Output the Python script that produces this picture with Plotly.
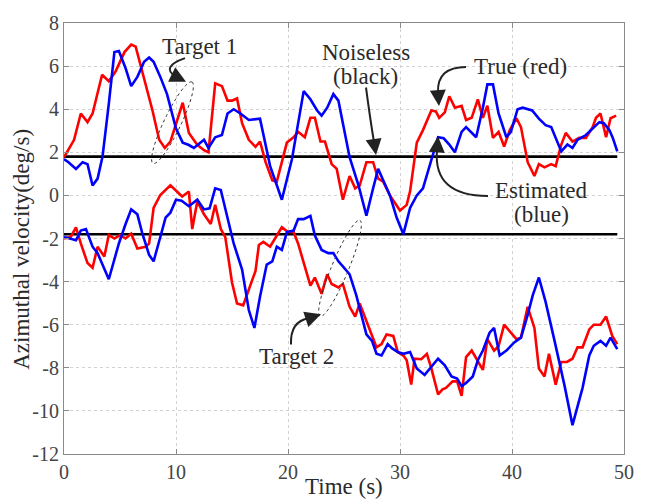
import numpy as np
import plotly.graph_objects as go

# ---------------- data ----------------
t1_true_t = [0,0.9,1.5,2.1,2.55,3.4,4.0,4.6,5.4,6.0,6.4,6.85,7.3,7.9,8.5,9.0,9.5,10.0,10.6,11.15,11.9,12.5,12.9,13.5,14.1,14.6,15.0,15.45,15.9,16.5,17.1,17.5,18.0,18.6,19.0,19.9,20.5,20.9,21.5,22.0,22.4,22.9,23.3,23.9,24.35,24.9,25.5,26.0,26.4,27.0,27.6,28.05,28.5,29.1,30.0,30.6,30.9,31.5,32.05,32.8,33.2,33.5,34.0,34.4,34.9,35.5,35.9,36.4,36.95,37.4,37.8,38.3,38.8,39.3,39.8,40.4,40.8,41.4,42.0,42.4,42.9,43.5,43.9,44.4,44.8,45.4,46.0,46.6,47.2,47.5,47.9,48.4,48.8,49.3]
t1_true_v = [1.77,2.58,3.8,3.4,3.8,5.6,5.3,5.75,6.65,7.0,6.9,6.05,5.07,3.94,2.58,2.2,2.5,3.35,4.3,2.9,2.35,2.1,2.0,5.2,5.07,4.4,4.4,4.5,3.35,2.58,2.25,2.5,1.54,0.7,0.64,2.45,2.7,2.95,2.7,3.6,3.6,2.5,2.5,1.45,1.23,-0.2,0.9,0.33,0.46,1.54,1.54,0.78,0.64,0.0,-0.7,-0.44,0.19,2.45,3.03,3.94,3.9,3.6,3.85,4.6,4.07,4.16,3.5,3.6,4.46,3.6,4.16,2.67,2.95,2.27,3.03,3.58,3.17,1.54,0.9,1.45,1.3,1.45,1.36,2.36,2.9,2.5,2.67,2.67,3.17,3.6,3.8,2.7,3.58,3.7]

t1_est_t = [0,0.4,1.07,1.66,2.1,2.55,3.0,3.44,4.0,4.5,4.9,5.5,6.0,6.55,7.15,7.6,8.0,8.6,9.2,10.0,10.6,11.1,11.6,12.5,12.9,13.5,14.1,14.6,15.15,15.75,16.5,17.5,18.4,19.45,20.35,21.4,22.0,22.6,23.0,23.5,24.05,24.5,24.9,25.5,26.3,27.0,27.6,28.05,28.5,29.1,29.7,30.3,30.9,31.5,32.05,32.8,33.4,33.9,34.4,34.9,35.5,35.9,36.8,37.4,37.8,38.3,38.8,39.5,39.9,40.5,40.95,41.8,42.4,43.0,43.5,44.4,44.95,45.4,45.85,46.6,47.2,47.8,48.2,48.7,49.0,49.4]
t1_est_v = [1.68,1.54,1.23,1.54,1.45,0.46,0.78,1.8,4.25,6.65,6.7,5.9,5.07,5.5,6.2,6.4,6.2,5.5,4.7,3.1,2.45,2.35,2.2,2.58,2.2,2.7,2.8,3.8,4.0,3.8,3.5,3.56,1.37,-0.2,1.68,4.84,4.46,3.94,3.7,4.07,4.7,4.4,3.35,1.77,0.46,-0.94,0.33,1.23,0.7,0.0,-1.03,-1.8,-0.58,0.0,0.33,1.68,2.7,2.65,2.36,2.0,2.95,3.17,2.7,4.07,5.15,5.15,3.8,2.7,2.95,4.0,4.07,3.94,3.56,3.26,3.17,2.04,2.36,2.2,2.58,2.8,3.1,3.4,3.35,3.03,2.67,2.04]

t2_true_t = [0,0.6,1.07,1.5,2.1,2.55,3.0,3.6,4.0,4.5,5.0,5.5,6.0,6.55,7.3,7.6,8.0,8.6,9.5,10.0,10.55,11.15,11.45,11.9,12.5,13.1,13.5,14.0,14.4,15.0,15.45,16.0,16.5,17.1,17.4,17.8,18.4,19.0,19.45,20.0,20.5,20.9,21.4,22.0,22.4,23.0,23.5,23.9,24.5,24.9,25.5,26.0,26.4,27.0,27.5,27.9,28.35,28.8,29.4,29.8,30.3,30.6,31.0,31.3,31.9,32.4,32.8,33.4,33.8,34.1,34.7,35.1,35.5,35.9,36.4,36.95,37.4,37.8,38.4,38.8,39.3,39.9,40.4,40.8,41.4,42.0,42.4,42.9,43.3,43.9,44.4,44.9,45.4,45.85,46.3,46.9,47.3,47.9,48.4,48.95,49.4]
t2_true_v = [-2.0,-1.93,-1.48,-2.23,-3.14,-3.36,-2.38,-2.84,-1.84,-2.0,-1.84,-2.0,-1.78,-2.46,-2.38,-2.23,-0.58,0.02,0.47,0.2,-0.05,0.18,-1.56,-0.28,-0.88,-1.33,-0.43,-1.56,-1.93,-4.04,-5.02,-5.1,-4.4,-3.5,-2.3,-2.16,-2.38,-1.86,-1.48,-1.7,-1.7,-2.23,-3.14,-4.19,-3.81,-4.57,-3.66,-4.11,-4.27,-4.11,-5.17,-5.62,-5.02,-5.85,-6.45,-7.05,-6.9,-6.45,-6.52,-7.27,-7.43,-7.65,-8.78,-7.58,-7.6,-7.35,-8.03,-9.23,-9.0,-8.93,-8.63,-8.63,-9.3,-7.5,-7.2,-7.73,-8.1,-6.67,-7.2,-7.0,-6.0,-6.37,-6.67,-6.6,-5.17,-6.15,-8.03,-8.4,-7.35,-8.78,-7.73,-7.73,-7.58,-7.05,-7.05,-6.22,-6.0,-6.0,-5.62,-6.52,-6.9]

t2_est_t = [0,0.6,1.07,1.5,1.96,2.55,3.0,4.0,4.9,5.5,6.0,6.55,7.0,7.6,8.0,8.6,9.07,9.5,10.0,10.5,11.15,11.9,12.5,13.0,13.5,14.0,14.6,15.15,15.9,16.5,17.0,17.5,18.1,18.6,19.0,19.45,19.9,20.5,20.9,21.4,22.0,22.4,23.0,23.6,24.05,24.5,24.9,25.5,26.1,26.5,27.0,27.5,27.9,28.35,28.9,29.3,29.8,30.3,30.9,31.5,32.2,32.8,33.4,34.0,34.6,35.1,35.5,35.9,36.5,36.95,37.4,38.0,38.4,38.9,39.5,40.2,40.8,41.4,41.85,42.4,43.0,43.8,44.7,45.4,46.3,46.9,47.3,47.9,48.4,48.8,49.4]
t2_est_v = [-1.93,-2.0,-2.08,-1.63,-1.56,-2.38,-2.68,-3.89,-2.23,-1.33,-0.65,-0.88,-1.78,-2.76,-3.06,-1.93,-1.03,-0.8,-0.2,-0.25,-0.5,-0.2,-0.65,-0.6,0.33,0.25,-1.03,-2.23,-3.44,-5.32,-6.15,-4.7,-3.21,-3.06,-2.38,-2.53,-1.7,-1.63,-1.1,-1.1,-0.95,-1.86,-2.53,-2.68,-2.68,-3.06,-3.29,-3.66,-4.64,-5.47,-6.45,-6.75,-7.35,-7.43,-6.9,-7.1,-7.27,-7.35,-7.27,-8.03,-8.33,-7.95,-7.58,-7.88,-8.4,-8.5,-8.85,-8.7,-8.4,-7.65,-7.2,-6.37,-6.15,-7.43,-7.2,-6.82,-6.6,-5.54,-4.64,-3.81,-4.94,-6.75,-8.85,-10.66,-8.93,-7.43,-6.98,-6.75,-6.98,-6.6,-7.13]

noiseless_t = [0, 49.4]
noiseless_v1 = [1.8, 1.8]
noiseless_v2 = [-1.8, -1.8]

x_ticks = [0, 10, 20, 30, 40, 50]
y_ticks = [-12, -10, -8, -6, -4, -2, 0, 2, 4, 6, 8]

# ---------------- geometry helpers (pixel -> data) ----------------
W, H = 652, 500
L, R, T, B = 64, 624, 13, 454
XR = (0, 50)
YR = (-12, 8)

def px2x(px):
    return XR[0] + (px - L) / (R - L) * (XR[1] - XR[0])

def py2y(py):
    return YR[1] - (py - T) / (B - T) * (YR[1] - YR[0])

FONT = "Liberation Serif"
TXT = "#2a2a2a"

fig = go.Figure()

for tv, vv in [(noiseless_t, noiseless_v1), (noiseless_t, noiseless_v2)]:
    fig.add_trace(go.Scatter(x=tv, y=vv, mode="lines",
                             line=dict(color="black", width=2.6), showlegend=False))

fig.add_trace(go.Scatter(x=t1_true_t, y=t1_true_v, mode="lines",
                         line=dict(color="#ff0000", width=2.6), showlegend=False))
fig.add_trace(go.Scatter(x=t2_true_t, y=t2_true_v, mode="lines",
                         line=dict(color="#ff0000", width=2.6), showlegend=False))
fig.add_trace(go.Scatter(x=t1_est_t, y=t1_est_v, mode="lines",
                         line=dict(color="#0000ff", width=2.6), showlegend=False))
fig.add_trace(go.Scatter(x=t2_est_t, y=t2_est_v, mode="lines",
                         line=dict(color="#0000ff", width=2.6), showlegend=False))

# dashed tilted ellipses
def ellipse_path(cx, cy, a, b, ang_deg, n=72):
    th = np.linspace(0, 2 * np.pi, n, endpoint=False)
    ang = np.deg2rad(ang_deg)
    ex = a * np.cos(th)
    ey = b * np.sin(th)
    px = cx + ex * np.cos(ang) + ey * np.sin(ang)
    py = cy - ex * np.sin(ang) + ey * np.cos(ang)
    pts = [f"{px2x(u):.4f},{py2y(v):.4f}" for u, v in zip(px, py)]
    return "M " + " L ".join(pts) + " Z"

for (cx, cy, a, b, ang) in [(172.5, 115, 46, 8.5, 65), (340, 264, 53, 8.5, 68)]:
    fig.add_shape(type="path", path=ellipse_path(cx, cy, a, b, ang), xref="x", yref="y",
                  line=dict(color="#333333", width=1, dash="dot"))

# curved arrows: (start, control, end) in pixels, arrow tip
def curve(p0, c, p1):
    return (f"M {px2x(p0[0]):.4f},{py2y(p0[1]):.4f} Q {px2x(c[0]):.4f},{py2y(c[1]):.4f} "
            f"{px2x(p1[0]):.4f},{py2y(p1[1]):.4f}")

arrows = [
    ((185, 49), (160, 58), (176, 68), (186, 73)),   # Target 1
    ((366, 79), (370, 110), (374, 135), (376, 148)),  # Noiseless
    ((466, 58), (437, 58), (438, 84), (439, 98)),   # True
    ((488, 190), (433, 190), (437, 143), (438, 129)),  # Estimated
    ((291, 342), (290, 318), (309, 315), (321, 311)),  # Target 2
]
for p0, c, p1, tip in arrows:
    fig.add_shape(type="path", path=curve(p0, c, p1), xref="x", yref="y",
                  line=dict(color="#222222", width=2))
    fig.add_annotation(x=px2x(tip[0]), y=py2y(tip[1]), xref="x", yref="y",
                       ax=p1[0] - tip[0], ay=p1[1] - tip[1], axref="pixel", ayref="pixel",
                       showarrow=True, arrowhead=2, arrowsize=1.6, arrowwidth=2,
                       arrowcolor="#222222", standoff=0, text="")

labels = [
    ("Target 1", 199, 37),
    ("Noiseless", 366, 43),
    ("(black)", 365, 68),
    ("True (red)", 520, 57),
    ("Estimated", 541, 184),
    ("(blue)", 541, 209),
    ("Target 2", 296, 354),
]
for txt, x, y in labels:
    fig.add_annotation(x=(x - L) / (R - L), y=(B - y) / (B - T), xref="paper", yref="paper",
                       text=txt, showarrow=False, xanchor="center", yanchor="middle",
                       borderpad=0,
                       font=dict(family=FONT, size=23, color=TXT))

# axis titles
fig.add_annotation(x=(344 - L) / (R - L), y=-(487 - B) / (B - T), xref="paper", yref="paper",
                   text="Time (s)", showarrow=False, xanchor="center", yanchor="middle",
                   font=dict(family=FONT, size=23, color=TXT))
fig.add_annotation(x=-(L - 22) / (R - L), y=(B - 245) / (B - T), xref="paper", yref="paper",
                   text="Azimuthal velocity(deg/s)", showarrow=False, textangle=-90,
                   xanchor="center", yanchor="middle",
                   font=dict(family=FONT, size=23, color=TXT))

axis_common = dict(showgrid=True, gridcolor="#d2d2d2", griddash="dot", gridwidth=1,
                   showline=True, linecolor="#8a8a8a", linewidth=1.2, mirror="ticks",
                   ticks="inside", ticklen=5, tickcolor="#8a8a8a", zeroline=False,
                   tickfont=dict(family=FONT, size=20, color="#444444"))

fig.update_xaxes(range=list(XR), tickvals=x_ticks, ticktext=[str(v) for v in x_ticks], **axis_common)
fig.update_yaxes(range=list(YR), tickvals=y_ticks, ticktext=[str(v) for v in y_ticks], **axis_common)

fig.update_layout(width=W, height=H, margin=dict(l=L, r=W - R, t=T, b=H - B),
                  plot_bgcolor="white", paper_bgcolor="white", showlegend=False)

fig.write_html("out.html", config={"displayModeBar": False},
               post_script="document.body.style.margin='0px';document.body.style.padding='0px';")
